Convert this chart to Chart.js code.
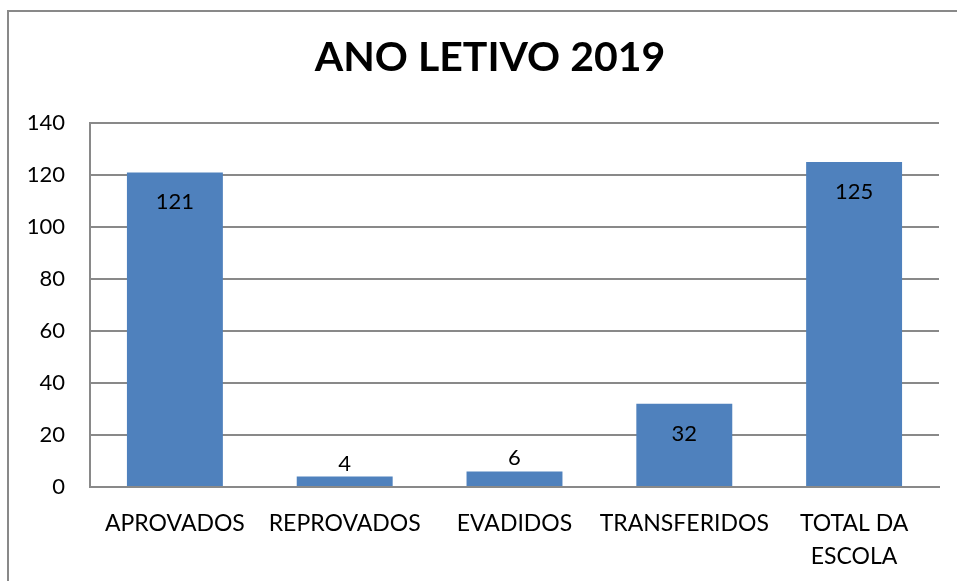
<!DOCTYPE html>
<html><head><meta charset="utf-8">
<script src="https://cdn.jsdelivr.net/npm/chart.js@4/dist/chart.umd.min.js"></script>
<style>
html,body{margin:0;padding:0;background:#fff;overflow:hidden}
#wrap{position:relative;width:957px;height:581px;overflow:hidden}
#frame{position:absolute;left:7px;top:10px;width:1000px;height:1000px;border-left:2px solid #898989;border-top:2px solid #898989;pointer-events:none}
canvas{position:absolute;left:0;top:0}
</style></head>
<body><div id="wrap"><canvas id="c" width="957" height="581"></canvas><div id="frame"></div></div>
<script>
const categories = ['APROVADOS', 'REPROVADOS', 'EVADIDOS', 'TRANSFERIDOS', ['TOTAL DA', 'ESCOLA']];
const values = [121, 4, 6, 32, 125];
const yMin = 0, yMax = 140, yStep = 20;
const titleText = 'ANO LETIVO 2019';

const FONT = 'Lato, "Open Sans", sans-serif';
const GRID = '#898989';

const labelPlugin = {
  id: 'barLabels',
  afterDatasetsDraw(chart) {
    const ctx = chart.ctx;
    const meta = chart.getDatasetMeta(0);
    ctx.save();
    ctx.font = '22px ' + FONT;
    ctx.fillStyle = '#000';
    ctx.textAlign = 'center';
    ctx.textBaseline = 'middle';
    meta.data.forEach((el, i) => {
      const v = chart.data.datasets[0].data[i];
      const y = v >= 20 ? el.y + 30 : el.y - 13;
      ctx.fillText(String(v), el.x, y);
    });
    ctx.restore();
  }
};

const titlePlugin = {
  id: 'chartTitle',
  afterDraw(chart) {
    const ctx = chart.ctx;
    ctx.save();
    ctx.font = 'bold 41px ' + FONT;
    ctx.fillStyle = '#000';
    ctx.textAlign = 'center';
    ctx.textBaseline = 'middle';
    ctx.fillText(titleText, 490, 58);
    ctx.restore();
  }
};

new Chart(document.getElementById('c'), {
  type: 'bar',
  data: {
    labels: categories,
    datasets: [{
      data: values,
      backgroundColor: '#4F81BD',
      borderWidth: 0,
      barPercentage: 0.565,
      categoryPercentage: 1
    }]
  },
  options: {
    responsive: false,
    animation: false,
    layout: { padding: { left: 0, right: 18, top: 123, bottom: 0 } },
    plugins: {
      legend: { display: false },
      tooltip: { enabled: false },
      title: { display: false }
    },
    scales: {
      x: {
        grid: { display: false, drawTicks: false },
        border: { display: true, color: GRID, width: 2 },
        ticks: {
          color: '#000',
          font: { family: FONT, size: 23, lineHeight: 1.45 },
          padding: 20,
          maxRotation: 0,
          autoSkip: false
        },
        afterFit(s) { s.height = 94; }
      },
      y: {
        min: yMin, max: yMax,
        grid: { color: GRID, lineWidth: 2, drawTicks: false },
        border: { display: true, color: GRID, width: 2 },
        ticks: {
          stepSize: yStep,
          color: '#000',
          font: { family: FONT, size: 22 },
          padding: 25
        },
        afterFit(s) { s.width = 90; }
      }
    }
  },
  plugins: [labelPlugin, titlePlugin]
});
</script>
</body></html>
